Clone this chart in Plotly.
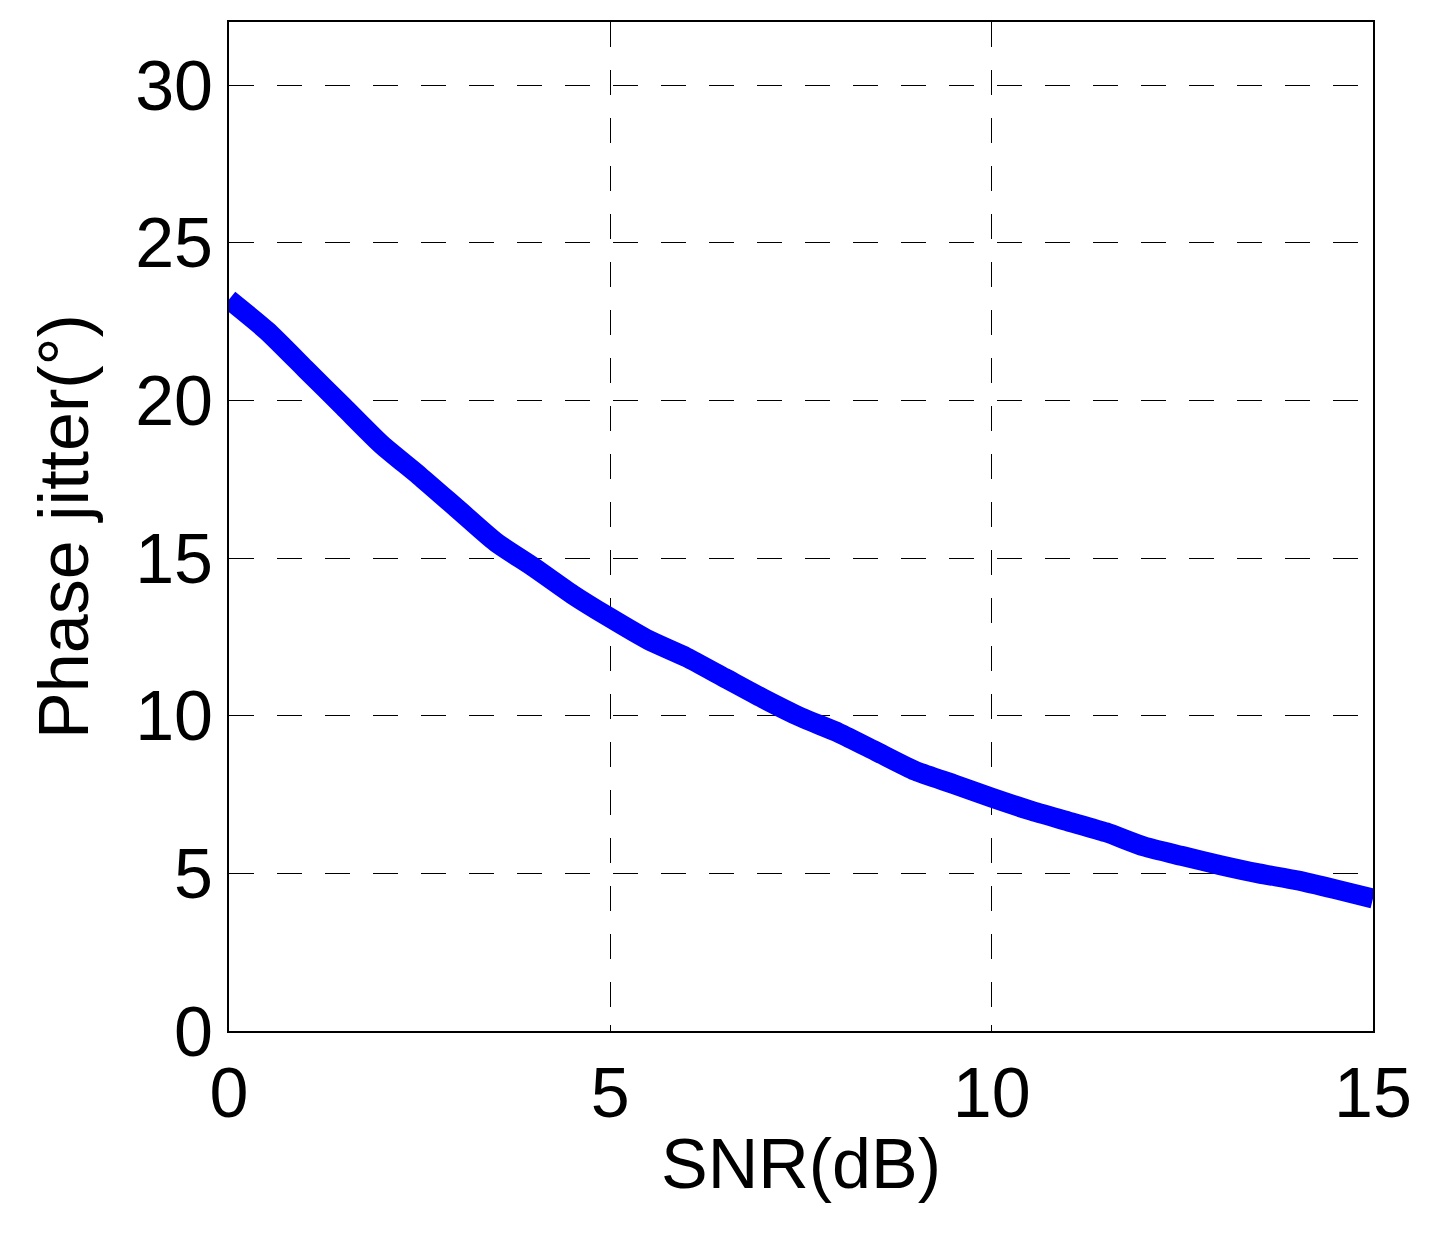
import plotly.graph_objects as go

snr_db = [0, 0.5, 1, 1.5, 2, 2.5, 3, 3.5, 4, 4.5, 5, 5.5, 6, 6.5, 7, 7.5, 8, 8.5, 9, 9.5,
          10, 10.5, 11, 11.5, 12, 12.5, 13, 13.5, 14, 14.5, 15]
phase_jitter = [23.2, 22.2, 21.0, 19.8, 18.6, 17.6, 16.55, 15.5, 14.7, 13.85, 13.1, 12.4, 11.85, 11.2,
                10.55, 9.95, 9.45, 8.85, 8.25, 7.83, 7.4, 7.0, 6.65, 6.3, 5.85, 5.55, 5.26, 5.0, 4.78, 4.5, 4.2]

x_ticks = [0, 5, 10, 15]
y_ticks = [0, 5, 10, 15, 20, 25, 30]

fig = go.Figure()
fig.add_trace(go.Scatter(x=snr_db, y=phase_jitter, mode="lines",
                         line=dict(color="#0000ff", width=20, shape="spline", smoothing=0.6),
                         showlegend=False))

font = dict(family="Liberation Sans, Arial, sans-serif", size=70, color="black")
axis_common = dict(showline=True, linecolor="black", linewidth=2, mirror=True,
                   showgrid=True, gridcolor="black", gridwidth=1, griddash="25px,23px",
                   zeroline=False, ticks="inside", ticklen=6, tickcolor="black",
                   tickfont=font)

fig.update_xaxes(range=[0, 15], tickvals=x_ticks, title=dict(text="SNR(dB)", font=font, standoff=8),
                 **axis_common)
fig.update_yaxes(range=[0, 32], tickvals=y_ticks, title=dict(text="Phase jitter(°)", font=font, standoff=24),
                 **axis_common)

fig.update_layout(width=1429, height=1225, margin=dict(l=221, r=64, t=14, b=202),
                  plot_bgcolor="white", paper_bgcolor="white")

fig.write_html("out.html")
